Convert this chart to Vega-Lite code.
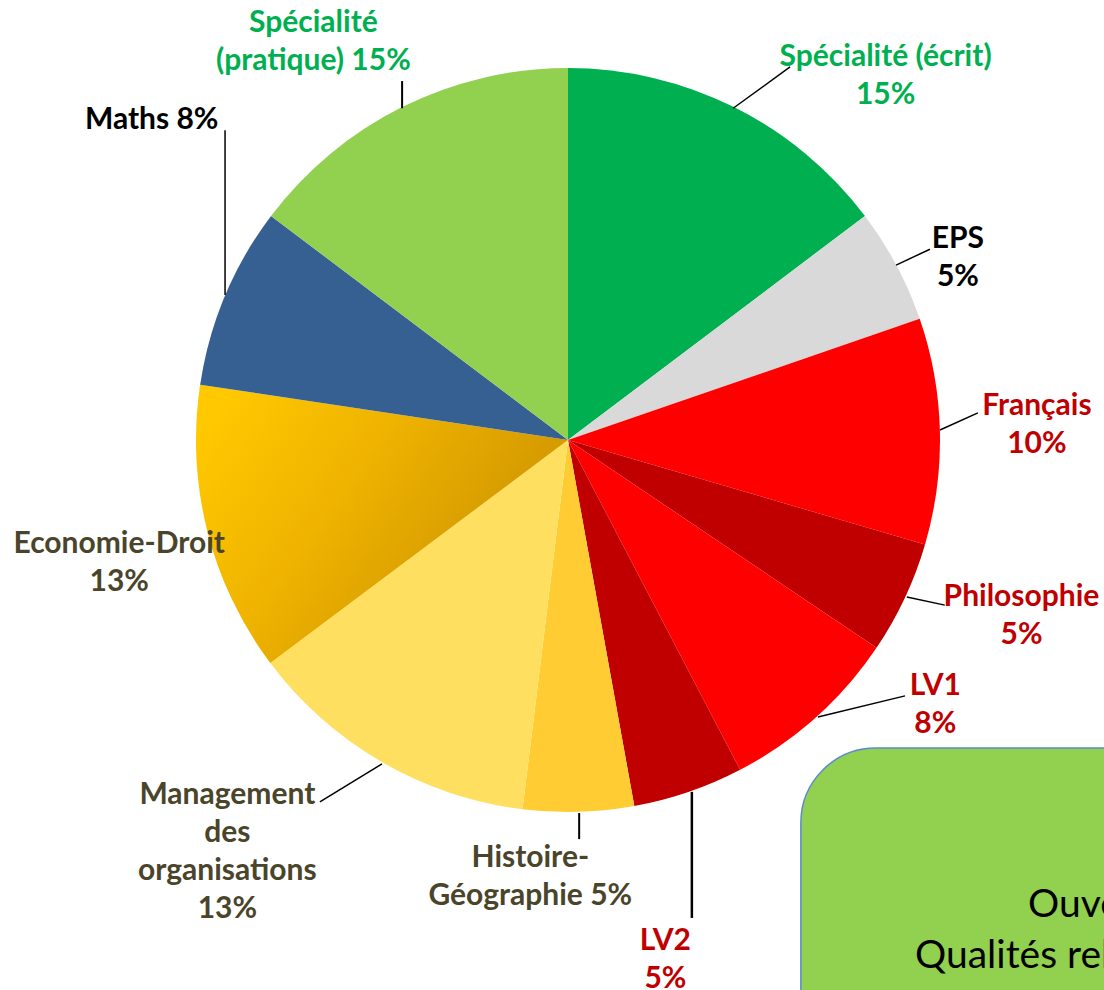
{
  "$schema": "https://vega.github.io/schema/vega-lite/v6.json",
  "width": 1072,
  "height": 880,
  "autosize": {"type": "none"},
  "padding": {"left": 32, "top": 0, "right": 0, "bottom": 110},
  "background": "white",
  "config": {"view": {"stroke": null}},
  "data": {
    "values": [
      {"i": 1, "k": "Spécialité (écrit)", "v": 14.7, "g": "vert", "label": "Spécialité (écrit)\n15%"},
      {"i": 2, "k": "EPS", "v": 5.0, "g": "noir", "label": "EPS\n5%"},
      {"i": 3, "k": "Français", "v": 9.8, "g": "rouge", "label": "Français\n10%"},
      {"i": 4, "k": "Philosophie", "v": 4.9, "g": "rouge", "label": "Philosophie\n5%"},
      {"i": 5, "k": "LV1", "v": 7.9, "g": "rouge", "label": "LV1\n8%"},
      {"i": 6, "k": "LV2", "v": 4.8, "g": "rouge", "label": "LV2\n5%"},
      {"i": 7, "k": "Histoire-Géographie", "v": 4.8, "g": "olive", "label": "Histoire-\nGéographie 5%"},
      {"i": 8, "k": "Management des organisations", "v": 12.8, "g": "olive", "label": "Management\ndes\norganisations\n13%"},
      {"i": 9, "k": "Economie-Droit", "v": 12.6, "g": "olive", "label": "Economie-Droit\n13%"},
      {"i": 10, "k": "Maths", "v": 7.9, "g": "noir", "label": "Maths  8%"},
      {"i": 11, "k": "Spécialité (pratique)", "v": 14.7, "g": "vert", "label": "Spécialité\n(pratique) 15%"}
    ]
  },
  "resolve": {"scale": {"color": "independent"}},
  "layer": [
    {
      "mark": {"type": "arc", "outerRadius": 372},
      "encoding": {
        "theta": {"field": "v", "type": "quantitative", "stack": true},
        "order": {"field": "i", "type": "quantitative"},
        "color": {
          "field": "k",
          "type": "nominal",
          "legend": null,
          "scale": {
            "domain": ["Spécialité (écrit)", "EPS", "Français", "Philosophie", "LV1", "LV2", "Histoire-Géographie", "Management des organisations", "Economie-Droit", "Maths", "Spécialité (pratique)"],
            "range": ["#00B050", "#D9D9D9", "#FF0000", "#C00000", "#FF0000", "#C00000", "#FFCD33", "#FFDF5F", "#EDB000", "#376092", "#92D050"]
          },
          "condition": {
            "test": "datum.k === 'Economie-Droit'",
            "value": {
              "gradient": "linear",
              "x1": 0, "y1": 0.2, "x2": 0.75, "y2": 0.6,
              "stops": [
                {"offset": 0, "color": "#FFC800"},
                {"offset": 0.5, "color": "#EFB300"},
                {"offset": 1, "color": "#D69C00"}
              ]
            }
          }
        }
      }
    },
    {
      "data": {"values": [{}]},
      "mark": {"type": "rule", "color": "black", "strokeWidth": 1.5},
      "encoding": {
        "x": {"datum": 0.444, "type": "quantitative", "scale": {"domain": [-1.441, 1.441], "nice": false, "zero": false}, "axis": null},
        "y": {"datum": 0.892, "type": "quantitative", "scale": {"domain": [-1.183, 1.183], "nice": false, "zero": false}, "axis": null},
        "x2": {"datum": 0.597}, "y2": {"datum": 1.003}
      }
    },
    {
      "data": {"values": [{}]},
      "mark": {"type": "rule", "color": "black", "strokeWidth": 1.5},
      "encoding": {
        "x": {"datum": 0.882, "type": "quantitative", "scale": {"domain": [-1.441, 1.441], "nice": false, "zero": false}, "axis": null},
        "y": {"datum": 0.470, "type": "quantitative", "scale": {"domain": [-1.183, 1.183], "nice": false, "zero": false}, "axis": null},
        "x2": {"datum": 0.973}, "y2": {"datum": 0.513}
      }
    },
    {
      "data": {"values": [{}]},
      "mark": {"type": "rule", "color": "black", "strokeWidth": 1.5},
      "encoding": {
        "x": {"datum": 1.0, "type": "quantitative", "scale": {"domain": [-1.441, 1.441], "nice": false, "zero": false}, "axis": null},
        "y": {"datum": 0.027, "type": "quantitative", "scale": {"domain": [-1.183, 1.183], "nice": false, "zero": false}, "axis": null},
        "x2": {"datum": 1.102}, "y2": {"datum": 0.073}
      }
    },
    {
      "data": {"values": [{}]},
      "mark": {"type": "rule", "color": "black", "strokeWidth": 1.5},
      "encoding": {
        "x": {"datum": 0.911, "type": "quantitative", "scale": {"domain": [-1.441, 1.441], "nice": false, "zero": false}, "axis": null},
        "y": {"datum": -0.422, "type": "quantitative", "scale": {"domain": [-1.183, 1.183], "nice": false, "zero": false}, "axis": null},
        "x2": {"datum": 1.013}, "y2": {"datum": -0.444}
      }
    },
    {
      "data": {"values": [{}]},
      "mark": {"type": "rule", "color": "black", "strokeWidth": 1.5},
      "encoding": {
        "x": {"datum": 0.672, "type": "quantitative", "scale": {"domain": [-1.441, 1.441], "nice": false, "zero": false}, "axis": null},
        "y": {"datum": -0.745, "type": "quantitative", "scale": {"domain": [-1.183, 1.183], "nice": false, "zero": false}, "axis": null},
        "x2": {"datum": 0.906}, "y2": {"datum": -0.688}
      }
    },
    {
      "data": {"values": [{}]},
      "mark": {"type": "rule", "color": "black", "strokeWidth": 2.5},
      "encoding": {
        "x": {"datum": 0.333, "type": "quantitative", "scale": {"domain": [-1.441, 1.441], "nice": false, "zero": false}, "axis": null},
        "y": {"datum": -0.946, "type": "quantitative", "scale": {"domain": [-1.183, 1.183], "nice": false, "zero": false}, "axis": null},
        "x2": {"datum": 0.333}, "y2": {"datum": -1.285}
      }
    },
    {
      "data": {"values": [{}]},
      "mark": {"type": "rule", "color": "black", "strokeWidth": 2},
      "encoding": {
        "x": {"datum": 0.030, "type": "quantitative", "scale": {"domain": [-1.441, 1.441], "nice": false, "zero": false}, "axis": null},
        "y": {"datum": -1.003, "type": "quantitative", "scale": {"domain": [-1.183, 1.183], "nice": false, "zero": false}, "axis": null},
        "x2": {"datum": 0.030}, "y2": {"datum": -1.073}
      }
    },
    {
      "data": {"values": [{}]},
      "mark": {"type": "rule", "color": "black", "strokeWidth": 1.5},
      "encoding": {
        "x": {"datum": -0.5, "type": "quantitative", "scale": {"domain": [-1.441, 1.441], "nice": false, "zero": false}, "axis": null},
        "y": {"datum": -0.871, "type": "quantitative", "scale": {"domain": [-1.183, 1.183], "nice": false, "zero": false}, "axis": null},
        "x2": {"datum": -0.667}, "y2": {"datum": -0.973}
      }
    },
    {
      "data": {"values": [{}]},
      "mark": {"type": "rule", "color": "black", "strokeWidth": 1.5},
      "encoding": {
        "x": {"datum": -0.922, "type": "quantitative", "scale": {"domain": [-1.441, 1.441], "nice": false, "zero": false}, "axis": null},
        "y": {"datum": 0.833, "type": "quantitative", "scale": {"domain": [-1.183, 1.183], "nice": false, "zero": false}, "axis": null},
        "x2": {"datum": -0.922}, "y2": {"datum": 0.390}
      }
    },
    {
      "data": {"values": [{}]},
      "mark": {"type": "rule", "color": "black", "strokeWidth": 2},
      "encoding": {
        "x": {"datum": -0.446, "type": "quantitative", "scale": {"domain": [-1.441, 1.441], "nice": false, "zero": false}, "axis": null},
        "y": {"datum": 0.965, "type": "quantitative", "scale": {"domain": [-1.183, 1.183], "nice": false, "zero": false}, "axis": null},
        "x2": {"datum": -0.446}, "y2": {"datum": 0.892}
      }
    },
    {
      "mark": {
        "type": "text",
        "radius": 470,
        "font": "Lato",
        "fontWeight": "bold",
        "fontSize": 30,
        "lineHeight": 38,
        "lineBreak": "\n",
        "align": "center",
        "baseline": "middle",
        "dx": {"expr": "[108,-25,-1,28,54,-55,-51,-105,7,17,-45][datum.i - 1]"},
        "dy": {"expr": "[38,20,-23,-43,-104,56,-52,-52,-11,-138,4][datum.i - 1]"}
      },
      "encoding": {
        "theta": {"field": "v", "type": "quantitative", "stack": true},
        "order": {"field": "i", "type": "quantitative"},
        "text": {"field": "label"},
        "color": {
          "field": "g",
          "type": "nominal",
          "legend": null,
          "scale": {"domain": ["vert", "noir", "rouge", "olive"], "range": ["#00B050", "#000000", "#C00000", "#4A452A"]}
        }
      }
    },
    {
      "data": {"values": [{}]},
      "mark": {"type": "rect", "cornerRadius": 75, "fill": "#92D050", "stroke": "#5B8BD0", "strokeWidth": 1.5},
      "encoding": {
        "x": {"datum": 0.626, "type": "quantitative", "scale": {"domain": [-1.441, 1.441], "nice": false, "zero": false}, "axis": null},
        "y": {"datum": -0.828, "type": "quantitative", "scale": {"domain": [-1.183, 1.183], "nice": false, "zero": false}, "axis": null},
        "x2": {"datum": 1.75}, "y2": {"datum": -1.75}
      }
    },
    {
      "data": {"values": [{"t": "Ouverture d'esprit", "px": 1.237, "py": -1.282}, {"t": "Qualités relationnelles", "px": 0.933, "py": -1.419}]},
      "mark": {"type": "text", "font": "Lato", "fontSize": 39, "align": "left", "baseline": "alphabetic", "color": "black"},
      "encoding": {
        "x": {"field": "px", "type": "quantitative", "scale": {"domain": [-1.441, 1.441], "nice": false, "zero": false}, "axis": null},
        "y": {"field": "py", "type": "quantitative", "scale": {"domain": [-1.183, 1.183], "nice": false, "zero": false}, "axis": null},
        "text": {"field": "t"}
      }
    }
  ]
}
